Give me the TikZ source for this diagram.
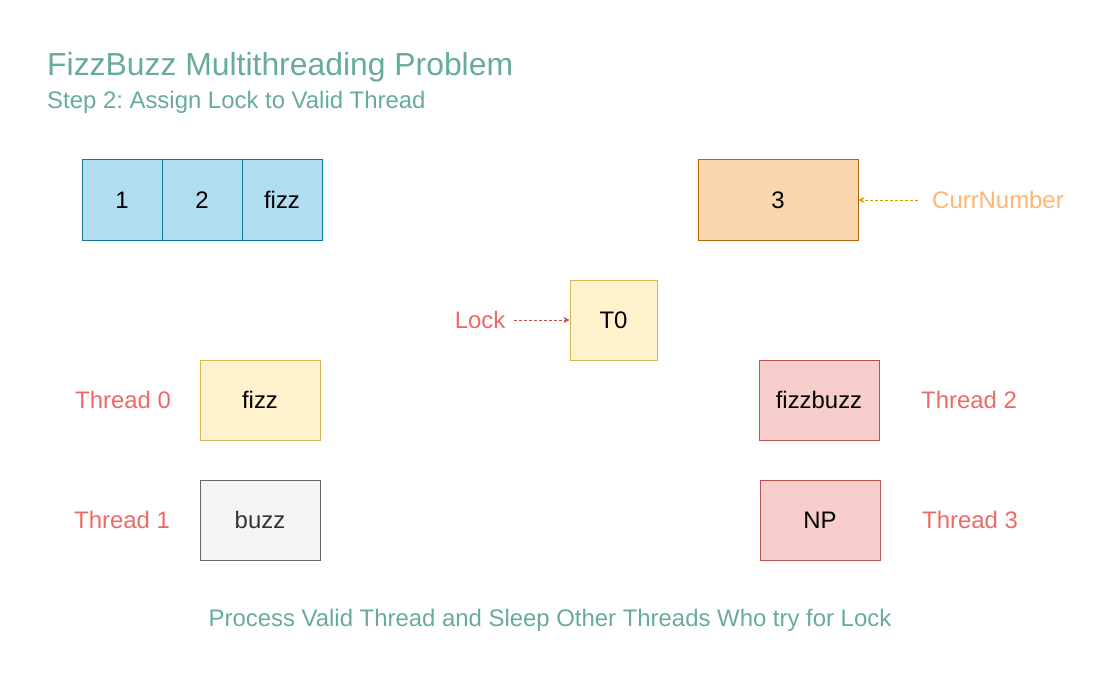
\documentclass[tikz,border=0pt]{standalone}
\usepackage{fontspec}
\setmainfont{Liberation Sans}
\usetikzlibrary{arrows.meta}
\frenchspacing
\definecolor{titlec}{HTML}{67AB9F}
\definecolor{redt}{HTML}{EA6B66}
\definecolor{orangt}{HTML}{FFB570}
\definecolor{bluef}{HTML}{B1DDF0}
\definecolor{bluel}{HTML}{10739E}
\definecolor{orangef}{HTML}{FAD7AC}
\definecolor{orangel}{HTML}{B46504}
\definecolor{yellowf}{HTML}{FFF2CC}
\definecolor{yellowl}{HTML}{D6B656}
\definecolor{greyf}{HTML}{F5F5F5}
\definecolor{greyl}{HTML}{666666}
\definecolor{redf}{HTML}{F8CECC}
\definecolor{redl}{HTML}{B85450}
\definecolor{arrowo}{HTML}{D79B00}
\tikzset{
  x=1bp,y=-1bp,
  cell/.style={draw=bluel,fill=bluef,line width=1bp,minimum width=80bp,minimum height=80bp,inner sep=0pt,font=\fontsize{24}{28}\selectfont},
  wbox/.style={line width=1bp,minimum width=120bp,minimum height=80bp,inner sep=0pt,font=\fontsize{24}{28}\selectfont},
  lbl/.style={inner sep=0pt,text=redt,font=\fontsize{24}{28}\selectfont},
  darr/.style={line width=0.8bp,dash pattern=on 3bp off 2bp,-{Stealth[length=6bp,width=6bp]}},
}
\begin{document}
\begin{tikzpicture}
\useasboundingbox (0,0) rectangle (1100,700);
\fill[white] (0,0) rectangle (1100,700);
% titles
\node[anchor=base west,inner sep=0pt,text=titlec,font=\fontsize{32}{36}\selectfont] (title) at (47,76) {FizzBuzz Multithreading Problem};
\node[anchor=base west,inner sep=0pt,text=titlec,font=\fontsize{24}{28}\selectfont] (sub) at (47,109) {Step 2: Assign Lock to Valid Thread};
% array
\node[cell] (c1) at (122,200) {1};
\node[cell] (c2) at (202,200) {2};
\node[cell] (c3) at (282,200) {fizz};
% current number
\node[wbox,minimum width=160bp,draw=orangel,fill=orangef] (cur) at (778,200) {3};
\node[inner sep=0pt,text=orangt,font=\fontsize{24}{28}\selectfont] (currlbl) at (998,200) {CurrNumber};
\draw[darr,draw=arrowo] (currlbl.west) ++(-14,0) coordinate (cstart) (cstart) -- (cur.east);
% lock
\node[wbox,minimum width=87bp,draw=yellowl,fill=yellowf] (t0) at (613.5,320) {T0};
\node[lbl] (lock) at (480,320) {Lock};
\draw[darr,draw=redl] ([xshift=9bp]lock.east) coordinate (lstart) (lstart) -- (t0.west);
% threads
\node[wbox,draw=yellowl,fill=yellowf] (fizz) at (260,400) {fizz};
\node[wbox,draw=greyl,fill=greyf,text=black!80] (buzz) at (260,520) {buzz};
\node[wbox,draw=redl,fill=redf] (fb) at (819,400) {fizzbuzz};
\node[wbox,draw=redl,fill=redf] (np) at (820,520) {NP};
\node[lbl] (th0) at (123,400) {Thread 0};
\node[lbl] (th1) at (122,520) {Thread 1};
\node[lbl] (th2) at (969,400) {Thread 2};
\node[lbl] (th3) at (970,520) {Thread 3};
% bottom
\node[inner sep=0pt,text=titlec,font=\fontsize{24}{28}\selectfont] (note) at (550,620) {Process Valid Thread and Sleep Other Threads Who try for Lock};
\end{tikzpicture}
\end{document}
